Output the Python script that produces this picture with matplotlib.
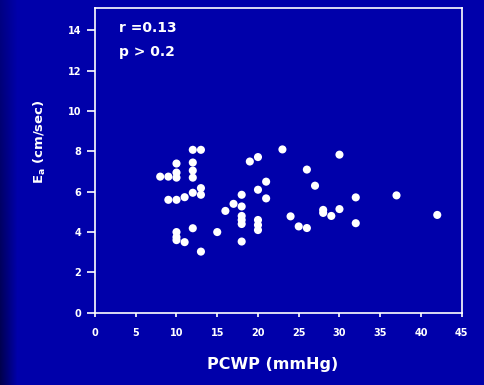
import numpy as np
import matplotlib
matplotlib.use("Agg")
import matplotlib.pyplot as plt

pcwp = [8, 9, 10, 10, 10, 12, 12, 12, 12, 13,
        9, 10, 11, 12, 13, 13,
        10, 10, 10, 11, 12, 13,
        15, 16, 17,
        18, 18, 18, 18, 18, 18,
        19, 20, 20, 20, 20, 20, 21, 21,
        23, 24, 25, 26, 26, 27,
        28, 28, 29, 30, 30,
        32, 32, 37, 42]
ea = [6.75, 6.75, 7.4, 6.95, 6.7, 8.08, 7.45, 7.05, 6.7, 8.08,
      5.6, 5.6, 5.73, 5.95, 6.18, 5.85,
      4.0, 3.75, 3.6, 3.5, 4.19, 3.03,
      4.0, 5.05, 5.4,
      5.85, 5.27, 4.8, 4.6, 4.4, 3.53,
      7.5, 7.72, 6.1, 4.6, 4.35, 4.1, 6.5, 5.67,
      8.1, 4.78, 4.28, 4.2, 7.1, 6.3,
      5.1, 4.95, 4.8, 5.14, 7.84,
      5.72, 4.44, 5.82, 4.85]
xticks = [0, 5, 10, 15, 20, 25, 30, 35, 40, 45]
yticks = [0, 2, 4, 6, 8, 10, 12, 14]

plt.rcParams['font.family'] = ['DejaVu Sans']
plt.rcParams['mathtext.fontset'] = 'dejavusans'
W, H = 484, 385
bg = '#0000aa'
fig = plt.figure(figsize=(4.84, 3.85), dpi=100, facecolor=bg)

# background: darker strip at the left edge
bax = fig.add_axes([0, 0, 1, 1], zorder=-10)
gx = np.linspace(0, 1, W)
gy = np.linspace(0, 1, H)
c0 = np.array([0.0, 0.0, 0.30])
c1 = np.array([0.0, 0.0, 0.667])
wx = np.clip(gx / 0.035, 0, 1)[None, :]
wy = (0.4 + 0.6 * gy)[:, None]          # darker toward the bottom
k = 1 - (1 - wx) * wy
img = c0[None, None, :] * (1 - k[..., None]) + c1[None, None, :] * k[..., None]
bax.imshow(img, aspect='auto', extent=[0, 1, 0, 1], origin='upper')
bax.axis('off')

ax = fig.add_axes([95/W, (H-312.7)/H, (461.7-95)/W, (312.7-8.3)/H])
ax.set_facecolor('none')
ax.scatter(pcwp, ea, s=34, c='white', edgecolors='none', zorder=3)

ax.set_xlim(0, 45)
ax.set_ylim(0, 15.1)
ax.set_xticks(xticks)
ax.set_yticks(yticks)
for s in ax.spines.values():
    s.set_color('white')
    s.set_linewidth(1.2)
ax.tick_params(axis='both', colors='white', labelsize=7, width=1.2, direction='out')
ax.tick_params(axis='y', length=6, pad=4)
ax.tick_params(axis='x', length=3, pad=8)
for lab in ax.get_xticklabels() + ax.get_yticklabels():
    lab.set_fontweight('bold')

ax.text(0.065, 0.935, 'r =0.13', transform=ax.transAxes, color='white',
        fontsize=10, fontweight='bold', va='center')
ax.text(0.065, 0.855, 'p > 0.2', transform=ax.transAxes, color='white',
        fontsize=10, fontweight='bold', va='center')

def ftxt(px, py, s, **kw):
    fig.text(px / W, 1 - py / H, s, color='white', fontweight='bold',
             ha='center', va='center', **kw)

ftxt(39.5, 142, r'$\mathbf{E}_{\mathbf{a}}$ (cm/sec)', rotation=90, fontsize=9.5)
ftxt(273, 365, 'PCWP (mmHg)', fontsize=11.5)

fig.savefig('out.png', dpi=100, facecolor=fig.get_facecolor())
